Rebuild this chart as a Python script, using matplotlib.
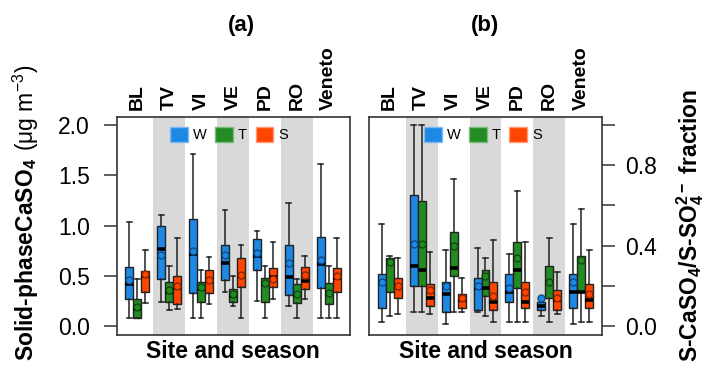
import matplotlib
matplotlib.use("Agg")
import matplotlib.pyplot as plt
from matplotlib.patches import Patch
from matplotlib.transforms import blended_transform_factory

plt.rcParams["font.family"] = ["Liberation Sans", "DejaVu Sans"]
plt.rcParams["mathtext.default"] = "regular"

SITES = ["BL", "TV", "VI", "VE", "PD", "RO", "Veneto"]
SEASONS = ["W", "T", "S"]
SHADED = ["TV", "VE", "RO"]

COLORS = {"W": "#1E88E5", "T": "#228B22", "S": "#FF4500"}
MEAN_EDGE = {"W": "#0B4A8A", "T": "#0E4A0E", "S": "#8A2500"}
LEGEND_EDGE = {"W": "#7FB8EE", "T": "#7DBB7D", "S": "#FF9A75"}
BAND = "#D9D9D9"

# box stats per site: (whislo, q1, median, q3, whishi, mean)
# (a) solid-phase CaSO4, ug m-3
CASO4_W = [(0.08, 0.27, 0.42, 0.59, 1.04, 0.46),
           (0.24, 0.47, 0.77, 1.00, 1.11, 0.71),
           (0.08, 0.33, 0.72, 1.07, 1.71, 0.75),
           (0.34, 0.46, 0.63, 0.81, 1.15, 0.71),
           (0.25, 0.56, 0.70, 0.87, 0.95, 0.73),
           (0.20, 0.31, 0.49, 0.81, 1.22, 0.63),
           (0.08, 0.38, 0.62, 0.89, 1.61, 0.66)]
CASO4_T = [(0.08, 0.08, 0.17, 0.27, 0.47, 0.19),
           (0.16, 0.24, 0.34, 0.44, 0.60, 0.36),
           (0.08, 0.24, 0.37, 0.44, 0.56, 0.39),
           (0.20, 0.24, 0.30, 0.37, 0.50, 0.32),
           (0.08, 0.24, 0.42, 0.48, 0.60, 0.43),
           (0.08, 0.23, 0.31, 0.42, 0.47, 0.32),
           (0.08, 0.22, 0.33, 0.43, 0.60, 0.33)]
CASO4_S = [(0.23, 0.34, 0.50, 0.55, 0.76, 0.52),
           (0.17, 0.22, 0.38, 0.50, 0.88, 0.40),
           (0.22, 0.33, 0.45, 0.56, 0.69, 0.46),
           (0.08, 0.39, 0.50, 0.68, 0.81, 0.51),
           (0.27, 0.39, 0.49, 0.58, 0.84, 0.47),
           (0.27, 0.37, 0.45, 0.59, 0.70, 0.51),
           (0.08, 0.34, 0.48, 0.58, 0.88, 0.50)]

# (b) S-CaSO4 / S-SO4 fraction
FRAC_W = [(0.02, 0.09, 0.22, 0.26, 0.51, 0.22),
          (0.07, 0.20, 0.30, 0.65, 1.00, 0.41),
          (0.01, 0.07, 0.16, 0.22, 0.38, 0.20),
          (0.07, 0.08, 0.19, 0.24, 0.39, 0.20),
          (0.02, 0.12, 0.17, 0.26, 0.36, 0.19),
          (0.05, 0.08, 0.10, 0.12, 0.14, 0.14),
          (0.01, 0.09, 0.17, 0.26, 0.51, 0.22)]
FRAC_T = [(0.05, 0.17, 0.32, 0.34, 0.35, 0.32),
          (0.07, 0.20, 0.28, 0.62, 1.00, 0.41),
          (0.07, 0.25, 0.29, 0.47, 0.73, 0.40),
          (0.05, 0.15, 0.19, 0.28, 0.34, 0.25),
          (0.02, 0.19, 0.28, 0.42, 0.67, 0.34),
          (0.02, 0.14, 0.22, 0.30, 0.44, 0.22),
          (0.02, 0.17, 0.17, 0.35, 0.58, 0.33)]
FRAC_S = [(0.06, 0.14, 0.20, 0.24, 0.34, 0.20),
          (0.06, 0.10, 0.14, 0.21, 0.37, 0.18),
          (0.07, 0.09, 0.13, 0.16, 0.24, 0.14),
          (0.02, 0.08, 0.12, 0.22, 0.43, 0.15),
          (0.02, 0.09, 0.12, 0.22, 0.42, 0.17),
          (0.06, 0.08, 0.13, 0.18, 0.27, 0.14),
          (0.02, 0.09, 0.13, 0.21, 0.38, 0.16)]

OFFSETS = [-0.25, 0.0, 0.25]


def draw_panel(ax, data, legend_x):
    for i, site in enumerate(SITES):
        if site in SHADED:
            ax.axvspan(i + 0.5, i + 1.5, color=BAND, lw=0, zorder=0)
    for k, season in enumerate(SEASONS):
        stats = [dict(whislo=r[0], q1=r[1], med=r[2], q3=r[3], whishi=r[4],
                      mean=r[5], fliers=[]) for r in data[season]]
        pos = [i + 1 + OFFSETS[k] for i in range(len(SITES))]
        ax.bxp(stats, positions=pos, widths=0.25, capwidths=0.15,
               showmeans=True, patch_artist=True, manage_ticks=False, zorder=2,
               boxprops=dict(facecolor=COLORS[season], edgecolor="#222222", lw=1),
               medianprops=dict(color="black", lw=2.6, solid_capstyle="butt"),
               whiskerprops=dict(color="#222222", lw=1.1),
               capprops=dict(color="#222222", lw=1.1),
               meanprops=dict(marker="o", markersize=5,
                              markerfacecolor=COLORS[season],
                              markeredgecolor=MEAN_EDGE[season],
                              markeredgewidth=1.0))
    ax.set_xlim(0.35, 7.65)
    ax.set_xticks([])
    trans = blended_transform_factory(ax.transData, ax.transAxes)
    for i, site in enumerate(SITES):
        ax.text(i + 1, 1.03, site, transform=trans, rotation=90,
                ha="center", va="bottom", fontsize=14, fontweight="bold")
    handles = [Patch(facecolor=COLORS[s], edgecolor=LEGEND_EDGE[s], lw=1)
               for s in SEASONS]
    ax.legend(handles, SEASONS, loc="center", bbox_to_anchor=(legend_x, 0.919),
              ncol=3, frameon=False, fontsize=10.5, handlelength=1.2,
              handleheight=1.2, handletextpad=0.35, columnspacing=0.6,
              borderpad=0, borderaxespad=0)
    ax.text(0.5, -0.106, "Site and season", transform=ax.transAxes,
            ha="center", va="baseline", fontsize=16.5, fontweight="bold")
    for sp in ax.spines.values():
        sp.set_color("#333333")
        sp.set_linewidth(1.2)


W, H = 706, 368
fig = plt.figure(figsize=(W / 100, H / 100), dpi=100)
bottom = (H - 334.5) / H
height = (334.5 - 116.7) / H
ax1 = fig.add_axes([116.5 / W, bottom, 233 / W, height])
ax2 = fig.add_axes([369 / W, bottom, 233 / W, height])

draw_panel(ax1, {"W": CASO4_W, "T": CASO4_T, "S": CASO4_S}, 0.483)
draw_panel(ax2, {"W": FRAC_W, "T": FRAC_T, "S": FRAC_S}, 0.489)

ax1.set_ylim(-0.08, 2.08)
ax1.set_yticks([0, 0.5, 1.0, 1.5, 2.0])
ax1.set_yticklabels(["0.0", "0.5", "1.0", "1.5", "2.0"])
ax1.tick_params(axis="y", length=9.5, width=1.1, pad=9.5, labelsize=16.5,
                color="#333333")

ax2.set_ylim(-0.04, 1.04)
ax2.yaxis.tick_right()
ax2.set_yticks([0, 0.2, 0.4, 0.6, 0.8, 1.0])
ax2.set_yticklabels(["0.0", "", "0.4", "", "0.8", ""])
ax2.tick_params(axis="y", length=9.5, width=1.1, pad=7.5, labelsize=16.5,
                color="#333333")

fig.text(241 / W, 1 - 31 / H, "(a)", ha="center", va="baseline",
         fontsize=16, fontweight="bold")
fig.text(485 / W, 1 - 31 / H, "(b)", ha="center", va="baseline",
         fontsize=16, fontweight="bold")

fig.text(33.5 / W, 1 - 361 / H, "Solid-phaseCaSO$_4$", rotation=90,
         rotation_mode="anchor", ha="left", va="baseline",
         fontsize=16.5, fontweight="bold")
fig.text(33.5 / W, 1 - 151 / H, "(μg m$^{-3}$)", rotation=90,
         rotation_mode="anchor", ha="left", va="baseline", fontsize=16.5)
fig.text(697 / W, 1 - 362 / H, "S-CaSO$_4$/S-SO$_4^{2-}$ fraction",
         rotation=90, rotation_mode="anchor", ha="left", va="baseline",
         fontsize=16.5, fontweight="bold")

fig.savefig("out.png", dpi=100)
